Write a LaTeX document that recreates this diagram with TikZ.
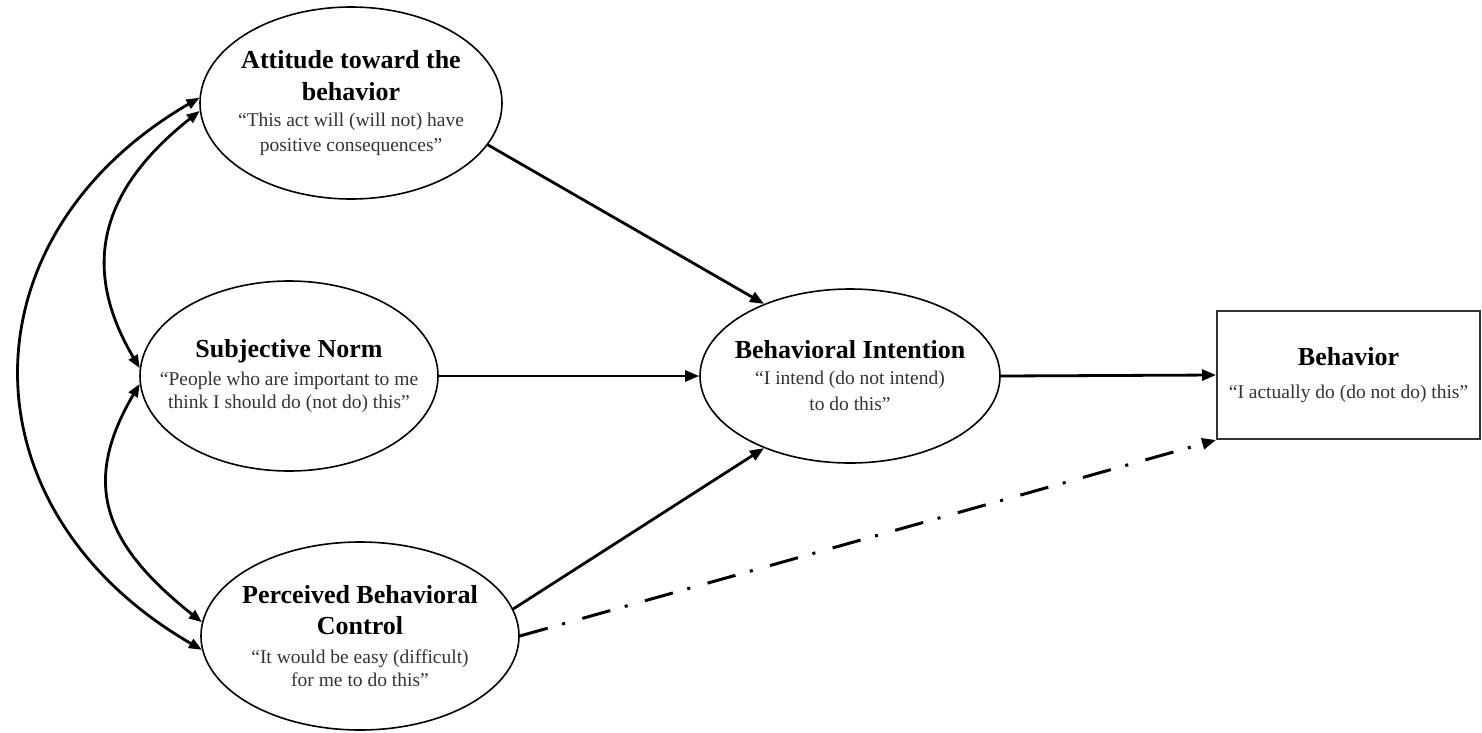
\documentclass[tikz,border=0pt]{standalone}
\usepackage{fontspec}
\setmainfont{Liberation Serif}
\usetikzlibrary{shapes.geometric,arrows.meta}
% title and quote typefaces for the constructs
\newcommand\tpbTitle[1]{{\fontsize{26}{32}\selectfont\bfseries\color{black}#1}}
\newcommand\tpbQuoteFont{\fontsize{19.5}{25}\selectfont}
\begin{document}
\begin{tikzpicture}[x=1pt,y=-1pt,
  construct/.style={ellipse,draw,line width=1.6pt,inner xsep=-60pt,inner ysep=-40pt,
    align=center,font=\tpbQuoteFont,text=black!80},
  outcome/.style={rectangle,draw=black!80,line width=2pt,inner sep=0pt,align=center,
    font=\tpbQuoteFont,text=black!80},
  path/.style={line width=2.8pt,-{Triangle[length=14pt,width=11pt]}},
  corr/.style={line width=2.8pt,{Triangle[length=13pt,width=10pt]}-{Triangle[length=13pt,width=10pt]}},
  direct/.style={line width=3pt,dash pattern=on 29pt off 15pt on 3pt off 18pt,
    -{Triangle[length=14pt,width=11pt]}}
]
\useasboundingbox (0,0) rectangle (1482,732);

% constructs
\node[construct,minimum width=302pt,minimum height=192pt] (att) at (351,103)
  {\tpbTitle{Attitude toward the}\\[7pt]\tpbTitle{behavior}\\[1pt]%
   “This act will (will not) have\\positive consequences”};
\node[construct,minimum width=298pt,minimum height=190pt] (sn) at (289,376)
  {\tpbTitle{Subjective Norm}\\[3pt]“People who are important to me\\[-2pt]think I should do (not do) this”};
\node[construct,minimum width=318pt,minimum height=188pt] (pbc) at (360,636)
  {\tpbTitle{Perceived Behavioral}\\[6pt]\tpbTitle{Control}\\[4pt]%
   “It would be easy (difficult)\\[-2pt]for me to do this”};
\node[construct,minimum width=300pt,minimum height=174pt] (bi) at (850,376)
  {\tpbTitle{Behavioral Intention}\\[1pt]“I intend (do not intend)\\[1pt]to do this”};
\node[outcome,minimum width=263pt,minimum height=128pt] (beh) at (1348.5,375)
  {\tpbTitle{Behavior}\\[8pt]“I actually do (do not do) this”};

% paths into intention and behaviour
\draw[path] (att.-17) -- (bi.140);
\draw[path] (sn.east) -- (bi.west);
\draw[path] (pbc.10) -- (bi.-140);
\draw[path] (bi.east) -- (beh.west);
\draw[direct] (pbc.east) -- (beh.south west);

% correlations among the antecedents
\draw[corr] (att.178) .. controls (-40,237) and (-40,510) .. (pbc.185);
\draw[corr] (att.183) .. controls (100,190) and (80,267) .. (sn.177);
\draw[corr] (sn.183) .. controls (80,485) and (105,545) .. (pbc.175);
\end{tikzpicture}
\end{document}
